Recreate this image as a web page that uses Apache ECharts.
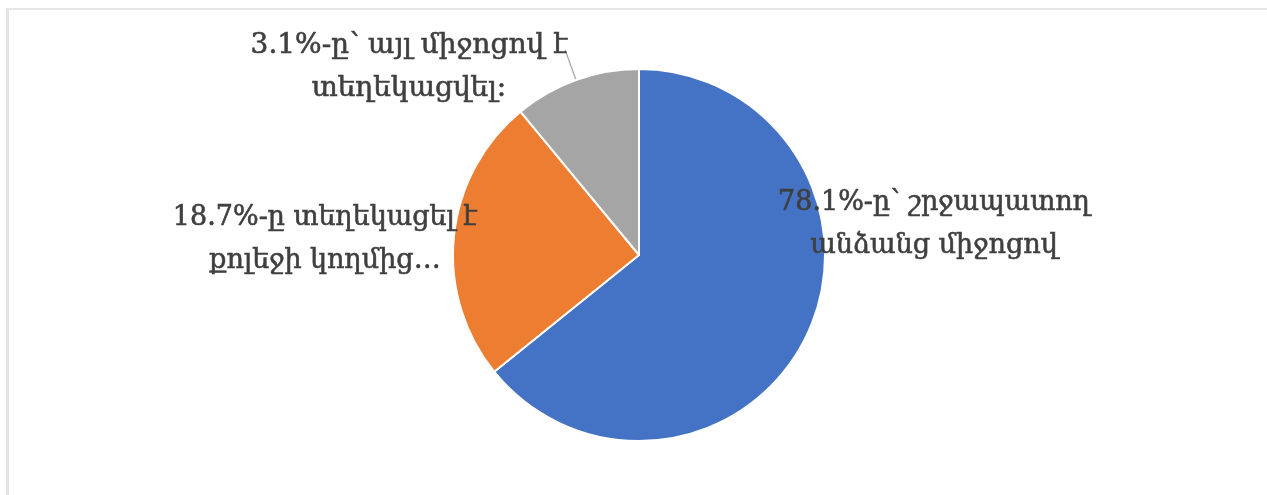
<!DOCTYPE html>
<html>
<head>
<meta charset="utf-8">
<script src="https://cdn.jsdelivr.net/npm/echarts@6/dist/echarts.min.js"></script>
<style>
html,body{margin:0;padding:0;background:#fff;overflow:hidden;}
#frame{position:absolute;left:6px;top:8px;width:1300px;height:520px;border-top:2px solid #e6e6e6;border-left:3px solid #e2e2e2;}
#chart{position:absolute;left:0;top:0;width:1267px;height:495px;}
</style>
</head>
<body>
<div id="frame"></div>
<div id="chart"></div>
<script>
// Slice labels (as printed on the chart)
const labels = [
  "78.1%-ը՝ շրջապատող\nանձանց միջոցով",
  "18.7%-ը տեղեկացել է\nքոլեջի կողմից…",
  "3.1%-ը՝ այլ միջոցով է\nտեղեկացվել։"
];
// Slice sizes as drawn (share of the circle, %)
const values = [64.2, 24.8, 11.0];
const colors = ["#4472C4", "#ED7D31", "#A5A5A5"];

const labelPos = [
  {x: 934, y: 224},
  {x: 325, y: 239},
  {x: 409, y: 67}
];

const chart = echarts.init(document.getElementById('chart'));
chart.setOption({
  animation: false,
  backgroundColor: 'transparent',
  series: [{
    type: 'pie',
    center: [639, 255],
    radius: 186,
    startAngle: 90,
    clockwise: true,
    itemStyle: {borderColor: '#fff', borderWidth: 2},
    label: {
      show: true,
      position: 'outside',
      formatter: p => labels[p.dataIndex],
      color: '#3f3f3f',
      fontFamily: 'DejaVu Serif',
      fontSize: 27,
      lineHeight: 43,
      textBorderColor: '#3f3f3f',
      textBorderWidth: 0.6
    },
    labelLine: {show: false},
    labelLayout: p => {
      const o = {
        x: labelPos[p.dataIndex].x,
        y: labelPos[p.dataIndex].y,
        align: 'center',
        verticalAlign: 'middle'
      };
      if (p.dataIndex === 2 && p.labelLinePoints) {
        o.labelLinePoints = p.labelLinePoints.map(pt => [pt[0], pt[1]]);
      }
      return o;
    },
    data: values.map((v, i) => ({
      value: v,
      name: labels[i],
      itemStyle: {color: colors[i]},
      label: i === 2 ? {fontSize: 28} : {},
      labelLine: i === 2 ? {show: true, length: 32, length2: 0, smooth: false, lineStyle: {color: '#a6a6a6', width: 1.3}} : {show: false}
    }))
  }]
});
</script>
</body>
</html>
